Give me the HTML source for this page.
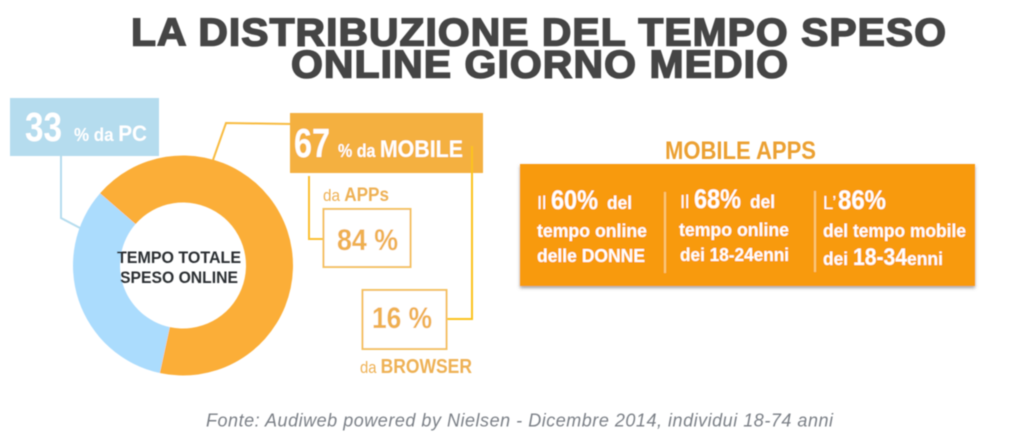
<!DOCTYPE html>
<html lang="it">
<head>
<meta charset="utf-8">
<title>La distribuzione del tempo speso online</title>
<style>
html,body{margin:0;padding:0;background:#fff;width:1024px;height:436px;overflow:hidden}
svg{display:block}
text{font-family:"Liberation Sans",Arial,sans-serif;font-weight:bold}
.n{font-weight:normal}
</style>
</head>
<body>
<svg id="chart" width="1024" height="436" viewBox="0 0 1024 436" xmlns="http://www.w3.org/2000/svg">
<defs>
<filter id="soft" x="-5%" y="-5%" width="110%" height="110%"><feGaussianBlur stdDeviation="0.4"/></filter>
<filter id="shadow" x="-3%" y="-5%" width="106%" height="115%"><feDropShadow dx="0" dy="2" stdDeviation="1.5" flood-color="#777" flood-opacity="0.7"/></filter>
</defs>
<g filter="url(#soft)">
<g fill="#454545" stroke="#454545" stroke-width="1.5" font-size="38.5" letter-spacing="1">
<text x="131" y="45.5" textLength="816" lengthAdjust="spacingAndGlyphs">LA DISTRIBUZIONE DEL TEMPO SPESO</text>
<text x="291" y="77.5" textLength="498" lengthAdjust="spacingAndGlyphs">ONLINE GIORNO MEDIO</text>
</g>

<g id="donut"></g>
<text x="117" y="263" font-size="17" fill="#2b2f33" textLength="124" lengthAdjust="spacingAndGlyphs">TEMPO TOTALE</text>
<text x="120" y="283" font-size="17" fill="#2b2f33" textLength="118" lengthAdjust="spacingAndGlyphs">SPESO ONLINE</text>

<polyline points="61,156 61,218 80,228" fill="none" stroke="#b5dcee" stroke-width="2"/>
<polyline points="291,124 226,123 213,160" fill="none" stroke="#f8bb3f" stroke-width="2"/>
<rect x="10" y="98" width="149" height="58" fill="#b5dcee"/>
<text x="25" y="141" font-size="41" fill="#fff" textLength="37" lengthAdjust="spacingAndGlyphs">33</text>
<text x="74" y="141" font-size="22" fill="#fff" textLength="73" lengthAdjust="spacingAndGlyphs"><tspan font-size="18">% da </tspan>PC</text>

<rect x="290" y="113" width="193" height="60" fill="#f4b040"/>
<text x="294" y="157" font-size="41" fill="#fff" textLength="36" lengthAdjust="spacingAndGlyphs">67</text>
<text x="338" y="157" font-size="24" fill="#fff" textLength="125" lengthAdjust="spacingAndGlyphs"><tspan font-size="18">% da </tspan>MOBILE</text>

<polyline points="309,176 309,239 323,239" fill="none" stroke="#fbbf30" stroke-width="2"/>
<polyline points="472,146 472,319 447,319" fill="none" stroke="#fcc21e" stroke-width="2"/>

<text x="323" y="201" font-size="19" fill="#eeb155" textLength="66" lengthAdjust="spacingAndGlyphs"><tspan class="n" font-size="17">da </tspan>APPs</text>
<rect x="323.5" y="209" width="87" height="58" fill="#fff" stroke="#f4c160" stroke-width="2"/>
<text x="337" y="250" font-size="30" fill="#efb04f" textLength="61" lengthAdjust="spacingAndGlyphs">84 %</text>

<rect x="362.5" y="290" width="84" height="59" fill="#fff" stroke="#f4c160" stroke-width="2"/>
<text x="372" y="328" font-size="30" fill="#efb04f" textLength="60" lengthAdjust="spacingAndGlyphs">16 %</text>
<text x="360" y="373" font-size="20" fill="#eeb155" textLength="112" lengthAdjust="spacingAndGlyphs"><tspan class="n" font-size="17">da </tspan>BROWSER</text>

<text x="665" y="159" font-size="25" fill="#eba030" textLength="151" lengthAdjust="spacingAndGlyphs">MOBILE APPS</text>
<rect x="520" y="164" width="455" height="122" fill="#f89a08" filter="url(#shadow)"/>
<line x1="665" y1="192" x2="665" y2="273" stroke="#fbc876" stroke-width="2"/>
<line x1="815" y1="191" x2="815" y2="272" stroke="#fbc876" stroke-width="2"/>

<g fill="#fff" font-size="18.5">
<text x="537" y="209" class="n">Il</text>
<text x="551" y="209" font-size="27" textLength="47" lengthAdjust="spacingAndGlyphs">60%</text>
<text x="607" y="209" textLength="25" lengthAdjust="spacingAndGlyphs">del</text>
<text x="537" y="237" textLength="110" lengthAdjust="spacingAndGlyphs">tempo online</text>
<text x="537" y="262" textLength="108" lengthAdjust="spacingAndGlyphs">delle DONNE</text>
</g>
<g fill="#fff" font-size="18.5">
<text x="680" y="208" class="n">Il</text>
<text x="694" y="208" font-size="27" textLength="47" lengthAdjust="spacingAndGlyphs">68%</text>
<text x="750" y="208" textLength="25" lengthAdjust="spacingAndGlyphs">del</text>
<text x="679" y="236" textLength="110" lengthAdjust="spacingAndGlyphs">tempo online</text>
<text x="680" y="261" textLength="109" lengthAdjust="spacingAndGlyphs">dei 18-24enni</text>
</g>
<g fill="#fff" font-size="18.5">
<text x="823" y="209" class="n">L’</text>
<text x="838" y="209" font-size="27" textLength="48" lengthAdjust="spacingAndGlyphs">86%</text>
<text x="823" y="237" textLength="143" lengthAdjust="spacingAndGlyphs">del tempo mobile</text>
<text x="823" y="265" textLength="25" lengthAdjust="spacingAndGlyphs">dei</text>
<text x="853" y="265" font-size="24" textLength="54" lengthAdjust="spacingAndGlyphs">18-34</text>
<text x="907" y="265" textLength="36" lengthAdjust="spacingAndGlyphs">enni</text>
</g>

<text x="206" y="426.5" font-size="18" fill="#7b8087" class="n" font-style="italic" textLength="627" lengthAdjust="spacing">Fonte: Audiweb powered by Nielsen - Dicembre 2014, individui 18-74 anni</text>
</g>
</svg>
<script>
const sliceNames = ['mobile', 'pc'];
const sliceValues = [67, 33];
const sliceColors = ['#fbae37', '#abdcfd'];

const donutCx = 183, donutCy = 265.5, donutOuter = 110, donutInner = 63, donutStart = 311;
const donutGroup = document.getElementById('donut');
const donutTotal = sliceValues.reduce((a, b) => a + b, 0);
function angleOf(v) { return v / donutTotal * 360; }
function polar(r, deg) {
  const a = deg * Math.PI / 180;
  return [donutCx + r * Math.sin(a), donutCy - r * Math.cos(a)];
}
let cursor = donutStart;
sliceValues.forEach((v, i) => {
  const sweep = angleOf(v), end = cursor + sweep, big = sweep > 180 ? 1 : 0;
  const p1 = polar(donutOuter, cursor), p2 = polar(donutOuter, end);
  const p3 = polar(donutInner, end), p4 = polar(donutInner, cursor);
  const el = document.createElementNS('http://www.w3.org/2000/svg', 'path');
  el.setAttribute('d', `M${p1[0]} ${p1[1]}A${donutOuter} ${donutOuter} 0 ${big} 1 ${p2[0]} ${p2[1]}L${p3[0]} ${p3[1]}A${donutInner} ${donutInner} 0 ${big} 0 ${p4[0]} ${p4[1]}Z`);
  el.setAttribute('fill', sliceColors[i]);
  
  
  donutGroup.appendChild(el);
  cursor = end;
});
</script>
</body>
</html>
